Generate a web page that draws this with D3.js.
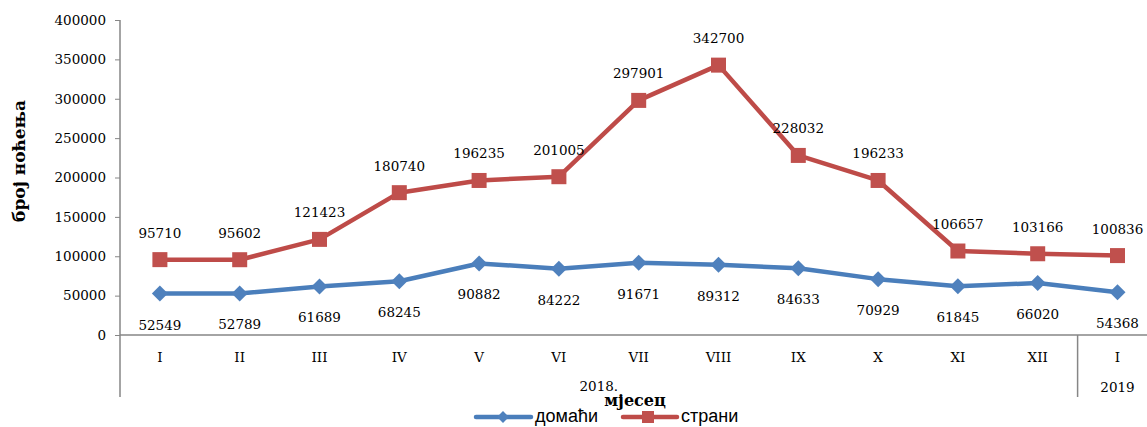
<!DOCTYPE html>
<html>
<head>
<meta charset="utf-8">
<script src="https://cdn.jsdelivr.net/npm/d3@7"></script>
<style>
  body { margin: 0; background: #fff; }
  svg text { font-family: "DejaVu Serif", serif; fill: #000; }
</style>
</head>
<body>
<div id="chart"></div>
<script>
// подаци
const months = ["I", "II", "III", "IV", "V", "VI", "VII", "VIII", "IX", "X", "XI", "XII", "I"];
const years = ["2018.", "2019"];
const domaci = [52549, 52789, 61689, 68245, 90882, 84222, 91671, 89312, 84633, 70929, 61845, 66020, 54368];
const strani = [95710, 95602, 121423, 180740, 196235, 201005, 297901, 342700, 228032, 196233, 106657, 103166, 100836];
const yTicks = [0, 50000, 100000, 150000, 200000, 250000, 300000, 350000, 400000];

const width = 1147, height = 427;
const plotLeft = 120, plotTop = 20, plotBottom = 335;
const band = 79.8;

const svg = d3.select('#chart').append('svg')
    .attr('width', width)
    .attr('height', height);

const x = d3.scaleBand()
    .domain(d3.range(months.length))
    .range([plotLeft, plotLeft + band * months.length])
    .paddingInner(0).paddingOuter(0);

const y = d3.scaleLinear()
    .domain([0, 400000])
    .range([plotBottom, plotTop]);

const cx = i => x(i) + x.bandwidth() / 2;
const axisColor = '#868686';

// y оса
const yAxis = svg.append('g')
    .attr('transform', `translate(${plotLeft},0)`)
    .call(d3.axisLeft(y).tickValues(yTicks).tickSize(5).tickPadding(9).tickFormat(d => d));
yAxis.select('.domain').remove();
yAxis.selectAll('line').attr('stroke', axisColor);
yAxis.selectAll('text').style('font-size', '13.5px').style('font-family', '"DejaVu Serif", serif');

// осе
svg.append('line')
    .attr('x1', plotLeft).attr('x2', plotLeft).attr('y1', plotTop).attr('y2', 397)
    .attr('stroke', axisColor).attr('stroke-width', 1.5);
svg.append('line')
    .attr('x1', plotLeft).attr('x2', width).attr('y1', plotBottom).attr('y2', plotBottom)
    .attr('stroke', axisColor).attr('stroke-width', 1.5);
svg.append('line')
    .attr('x1', x(12)).attr('x2', x(12)).attr('y1', plotBottom).attr('y2', 397)
    .attr('stroke', axisColor).attr('stroke-width', 1.5);

// мјесеци
svg.append('g').selectAll('text')
    .data(months)
    .enter().append('text')
    .attr('x', (d, i) => cx(i))
    .attr('y', 362)
    .attr('text-anchor', 'middle')
    .style('font-size', '13.5px')
    .text(d => d);

// године
svg.append('text')
    .attr('x', (plotLeft + x(12)) / 2).attr('y', 391)
    .attr('text-anchor', 'middle').style('font-size', '13.5px')
    .text(years[0]);
svg.append('text')
    .attr('x', cx(12)).attr('y', 392)
    .attr('text-anchor', 'middle').style('font-size', '13.5px')
    .text(years[1]);

// наслови оса
svg.append('text')
    .attr('x', 635).attr('y', 406)
    .attr('text-anchor', 'middle')
    .style('font-size', '16px').style('font-weight', 'bold')
    .text('мјесец');
svg.append('text')
    .attr('transform', 'translate(25,161) rotate(-90)')
    .attr('text-anchor', 'middle')
    .style('font-size', '17px').style('font-weight', 'bold')
    .text('број ноћења');

const line = d3.line().x((d, i) => cx(i)).y(d => y(d));

// домаћи
svg.append('path')
    .datum(domaci)
    .attr('d', line)
    .attr('fill', 'none')
    .attr('stroke', '#4A7EBB')
    .attr('stroke-width', 4.5)
    .attr('stroke-linejoin', 'round');
svg.append('g').selectAll('path')
    .data(domaci)
    .enter().append('path')
    .attr('d', d3.symbol(d3.symbolSquare, 128)())
    .attr('transform', (d, i) => `translate(${cx(i)},${y(d)}) rotate(45)`)
    .attr('fill', '#4F81BD');
svg.append('g').selectAll('text')
    .data(domaci)
    .enter().append('text')
    .attr('x', (d, i) => cx(i))
    .attr('y', d => y(d) + 36)
    .attr('text-anchor', 'middle')
    .style('font-size', '13.5px')
    .text(d => d);

// страни
svg.append('path')
    .datum(strani)
    .attr('d', line)
    .attr('fill', 'none')
    .attr('stroke', '#BE4B48')
    .attr('stroke-width', 4.5)
    .attr('stroke-linejoin', 'round');
svg.append('g').selectAll('rect')
    .data(strani)
    .enter().append('rect')
    .attr('x', (d, i) => cx(i) - 7.5)
    .attr('y', d => y(d) - 7.5)
    .attr('width', 15).attr('height', 15)
    .attr('fill', '#C0504D');
svg.append('g').selectAll('text')
    .data(strani)
    .enter().append('text')
    .attr('x', (d, i) => cx(i))
    .attr('y', d => y(d) - 22)
    .attr('text-anchor', 'middle')
    .style('font-size', '13.5px')
    .text(d => d);

// легенда
const lg = svg.append('g');
lg.append('line').attr('x1', 476).attr('x2', 531).attr('y1', 417).attr('y2', 417)
    .attr('stroke', '#4A7EBB').attr('stroke-width', 4.5).attr('stroke-linecap', 'round');
lg.append('path').attr('d', d3.symbol(d3.symbolSquare, 70)())
    .attr('transform', 'translate(503,417) rotate(45)').attr('fill', '#4F81BD');
lg.append('text').attr('x', 535).attr('y', 422)
    .style('font-family', '"Liberation Sans", sans-serif').style('font-size', '18px')
    .text('домаћи');
lg.append('line').attr('x1', 623).attr('x2', 677).attr('y1', 417).attr('y2', 417)
    .attr('stroke', '#BE4B48').attr('stroke-width', 4.5).attr('stroke-linecap', 'round');
lg.append('rect').attr('x', 642).attr('y', 411).attr('width', 12).attr('height', 12)
    .attr('fill', '#C0504D');
lg.append('text').attr('x', 681).attr('y', 422)
    .style('font-family', '"Liberation Sans", sans-serif').style('font-size', '18px')
    .text('страни');
</script>
</body>
</html>
